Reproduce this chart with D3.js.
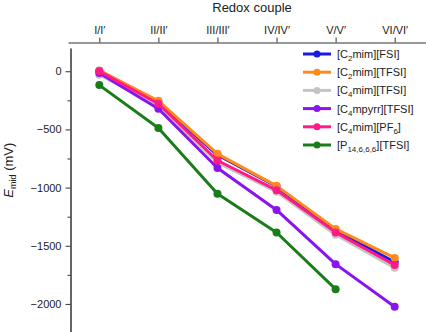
<!DOCTYPE html>
<html>
<head>
<meta charset="utf-8">
<script src="https://cdn.jsdelivr.net/npm/d3@7"></script>
<style>
body { margin: 0; background: #fff; }
text { font-family: 'Liberation Sans', Arial, sans-serif; fill: #222; }
.axis path, .axis line { stroke: #333; stroke-width: 1; }
.axis text { font-size: 11px; fill: #222; font-family: 'Liberation Sans', Arial, sans-serif; }
</style>
</head>
<body>
<div id="chart"></div>
<script>
'use strict';
const couples = ['I/I\u2032', 'II/II\u2032', 'III/III\u2032', 'IV/IV\u2032', 'V/V\u2032', 'VI/VI\u2032']
const names = [
    [['[C', ''], ['2', 'sub'], ['mim][FSI]', '']],
    [['[C', ''], ['2', 'sub'], ['mim][TFSI]', '']],
    [['[C', ''], ['4', 'sub'], ['mim][TFSI]', '']],
    [['[C', ''], ['4', 'sub'], ['mpyrr][TFSI]', '']],
    [['[C', ''], ['4', 'sub'], ['mim][PF', ''], ['6', 'sub'], [']', '']],
    [['[P', ''], ['14,6,6,6', 'sub'], ['][TFSI]', '']]
]
const colors = ['#1a1ae6', '#ff8a1c', '#c4c4c4', '#8a14f0', '#ff1a86', '#1a7d1a']
const c2mimFSI = [5, -265, -720, -990, -1370, -1640]
const c2mimTFSI = [5, -254, -710, -985, -1355, -1605]
const c4mimTFSI = [-30, -300, -785, -1035, -1405, -1690]
const c4mpyrrTFSI = [-15, -322, -832, -1192, -1658, -2025]
const c4mimPF6 = [0, -279, -767, -1022, -1385, -1665]
const p14TFSI = [-119, -488, -1052, -1386, -1873]
const series = [c2mimFSI, c2mimTFSI, c4mimTFSI, c4mpyrrTFSI, c4mimPF6, p14TFSI]
const yMajor = [0, -500, -1000, -1500, -2000]
const yMinor = [-250, -750, -1250, -1750, -2250]

const W = 426, H = 332
const svg = d3.select('#chart').append('svg')
    .attr('width', W)
    .attr('height', H)

const x = d3.scalePoint()
    .domain(couples)
    .range([68, 426])
    .padding(0.53)
const y = d3.scaleLinear()
    .domain([200, -2250])
    .range([48, 333])

svg.append('g') // top x axis
    .attr('class', 'axis')
    .attr('transform', 'translate(0, 42.5)')
    .call(d3.axisTop(x).tickSize(5).tickSizeOuter(0).tickPadding(4))

svg.append('g') // left y axis minor ticks
    .attr('class', 'axis')
    .attr('transform', 'translate(70.5, 0)')
    .call(d3.axisLeft(y).tickValues(yMinor).tickSize(3).tickSizeOuter(0).tickFormat(''))
svg.append('g') // left y axis
    .attr('class', 'axis')
    .attr('transform', 'translate(70.5, 0)')
    .call(d3.axisLeft(y).tickValues(yMajor).tickSize(5).tickSizeOuter(0).tickPadding(4)
        .tickFormat(d => d3.format(',')(d).replace(',', '').replace('-', '\u2212')))

svg.append('text') // top axis title
    .attr('x', 252)
    .attr('y', 12)
    .attr('text-anchor', 'middle')
    .style('font-size', '13px')
    .text('Redox couple')

const yl = svg.append('text') // y axis title
    .attr('transform', `translate(13, ${y(-850)}) rotate(-90)`)
    .attr('text-anchor', 'middle')
    .style('font-size', '13px')
yl.append('tspan').style('font-style', 'italic').text('E')
yl.append('tspan').attr('dy', 3).style('font-size', '9px').text('mid')
yl.append('tspan').attr('dy', -3).text(' (mV)')

const line = d3.line()
    .x((d, i) => x(couples[i]))
    .y(d => y(d))

series.forEach((s, k) => {
    const g = svg.append('g')
    g.append('path').datum(s)
        .attr('fill', 'none')
        .attr('stroke', colors[k])
        .attr('stroke-width', 3)
        .attr('stroke-linejoin', 'round')
        .attr('d', line)
    g.selectAll('circle').data(s).enter().append('circle')
        .attr('cx', (d, i) => x(couples[i]))
        .attr('cy', d => y(d))
        .attr('r', 4)
        .attr('fill', colors[k])
})

const legend = svg.append('g') // legend
names.forEach((parts, k) => {
    const ly = 54 + k * 18.2
    legend.append('line')
        .attr('x1', 303).attr('x2', 331)
        .attr('y1', ly).attr('y2', ly)
        .attr('stroke', colors[k])
        .attr('stroke-width', 3)
    legend.append('circle')
        .attr('cx', 317).attr('cy', ly).attr('r', 3.5)
        .attr('fill', colors[k])
    const t = legend.append('text')
        .attr('x', 337)
        .attr('y', ly + 4)
        .style('font-size', '11px')
    let shift = 0
    parts.forEach(p => {
        const sub = p[1] === 'sub'
        const dy = sub ? 3 - shift : -shift
        shift = sub ? 3 : 0
        t.append('tspan')
            .attr('dy', dy)
            .style('font-size', sub ? '8px' : '11px')
            .text(p[0])
    })
})
</script>
</body>
</html>
